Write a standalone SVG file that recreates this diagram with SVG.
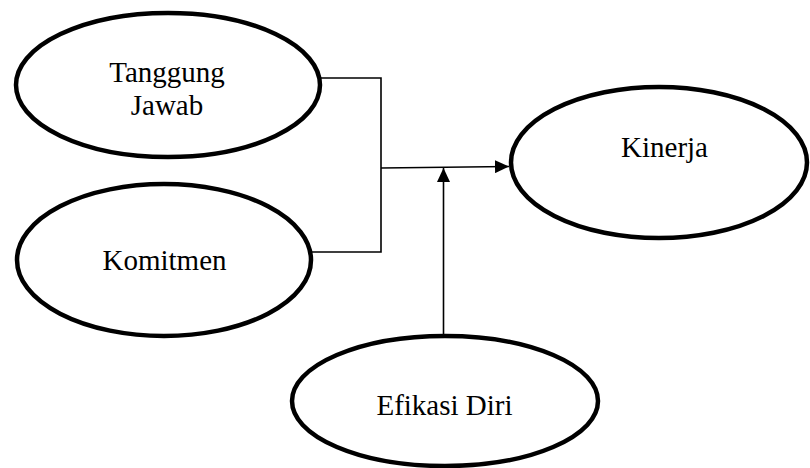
<svg xmlns="http://www.w3.org/2000/svg" width="810" height="468" viewBox="0 0 810 468">
<defs>
<style>
.node ellipse{fill:#fff;stroke:#000;stroke-width:4.5}
.node text{font-family:"Liberation Serif","Times New Roman",serif;font-size:29px;fill:#000;text-anchor:middle}
.conn{fill:none;stroke:#000;stroke-width:1.6}
</style>
<marker id="arr" viewBox="0 0 14 13" refX="14" refY="6.5" markerWidth="14" markerHeight="13" markerUnits="userSpaceOnUse" orient="auto">
<path d="M0,0 L14,6.5 L0,13 Z" fill="#000"/>
</marker>
</defs>
<rect width="810" height="468" fill="#fff"/>
<g id="connectors">
<polyline class="conn" points="320,78 381,78 381,252 311,252"/>
<line class="conn" x1="381" y1="168" x2="509" y2="166.5" marker-end="url(#arr)"/>
<line class="conn" x1="443.5" y1="336" x2="443.5" y2="168" marker-end="url(#arr)"/>
</g>
<g id="tanggung-jawab" class="node">
<ellipse cx="168" cy="85" rx="152" ry="72"/>
<text x="167" y="82">Tanggung</text>
<text x="167" y="115">Jawab</text>
</g>
<g id="komitmen" class="node">
<ellipse cx="164" cy="260" rx="147" ry="76"/>
<text x="164.5" y="270">Komitmen</text>
</g>
<g id="kinerja" class="node">
<ellipse cx="659" cy="162.5" rx="148" ry="75.5"/>
<text x="664.5" y="157">Kinerja</text>
</g>
<g id="efikasi-diri" class="node">
<ellipse cx="445" cy="401" rx="153" ry="65"/>
<text x="444.5" y="415">Efikasi Diri</text>
</g>
</svg>
